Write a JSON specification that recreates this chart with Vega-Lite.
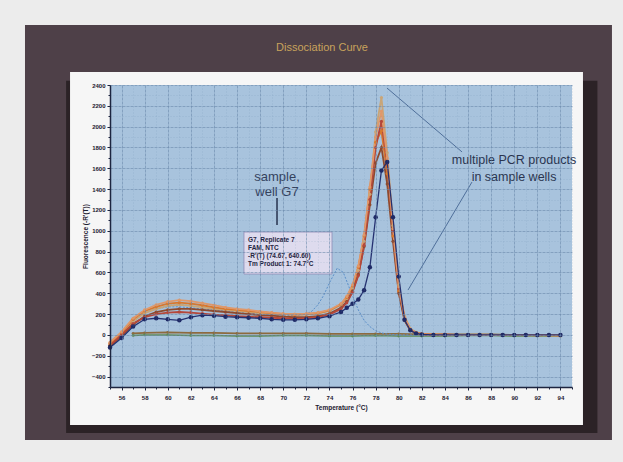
{
  "$schema": "https://vega.github.io/schema/vega-lite/v6.json",
  "width": 462,
  "height": 302,
  "autosize": {"type": "none"},
  "padding": {"left": 110, "top": 85, "right": 51, "bottom": 75},
  "background": "#ececec",
  "config": {
    "font": "Liberation Sans",
    "view": {"stroke": null},
    "axis": {
      "labelFontSize": 6,
      "labelFontWeight": "bold",
      "labelColor": "#1d2030",
      "labelOverlap": false,
      "labelFlush": false,
      "tickColor": "#1d2540",
      "domainColor": "#1d2540",
      "domainWidth": 1.5,
      "gridColor": "#6a88ab",
      "titleFontSize": 6.5,
      "titleFontWeight": "bold",
      "titleColor": "#1d2030"
    }
  },
  "datasets": {
    "curves": [
      {"r":"A7","t":55,"v":-90},{"r":"A7","t":56,"v":10},{"r":"A7","t":57,"v":130},{"r":"A7","t":58,"v":210},{"r":"A7","t":59,"v":250},{"r":"A7","t":60,"v":280},{"r":"A7","t":61,"v":290},{"r":"A7","t":62,"v":280},{"r":"A7","t":63,"v":265},{"r":"A7","t":64,"v":250},{"r":"A7","t":65,"v":240},{"r":"A7","t":66,"v":230},{"r":"A7","t":67,"v":220},{"r":"A7","t":68,"v":210},{"r":"A7","t":69,"v":205},{"r":"A7","t":70,"v":200},{"r":"A7","t":71,"v":195},{"r":"A7","t":72,"v":195},{"r":"A7","t":73,"v":205},{"r":"A7","t":74,"v":230},
      {"r":"A7","t":75,"v":290},{"r":"A7","t":75.5,"v":350},{"r":"A7","t":76,"v":450},{"r":"A7","t":76.5,"v":620},{"r":"A7","t":77,"v":900},{"r":"A7","t":77.5,"v":1350},{"r":"A7","t":78,"v":1950},{"r":"A7","t":78.5,"v":2280},{"r":"A7","t":79,"v":1750},{"r":"A7","t":79.5,"v":1050},{"r":"A7","t":80,"v":480},{"r":"A7","t":80.5,"v":180},{"r":"A7","t":81,"v":60},{"r":"A7","t":81.5,"v":25},{"r":"A7","t":82,"v":10},
      {"r":"A7","t":83,"v":5},{"r":"A7","t":84,"v":5},{"r":"A7","t":85,"v":0},{"r":"A7","t":86,"v":0},{"r":"A7","t":87,"v":5},{"r":"A7","t":88,"v":0},{"r":"A7","t":89,"v":0},{"r":"A7","t":90,"v":0},{"r":"A7","t":91,"v":-5},{"r":"A7","t":92,"v":-5},{"r":"A7","t":93,"v":-5},{"r":"A7","t":94,"v":-10},

      {"r":"B7","t":55,"v":-80},{"r":"B7","t":56,"v":20},{"r":"B7","t":57,"v":150},{"r":"B7","t":58,"v":230},{"r":"B7","t":59,"v":270},{"r":"B7","t":60,"v":300},{"r":"B7","t":61,"v":310},{"r":"B7","t":62,"v":300},{"r":"B7","t":63,"v":285},{"r":"B7","t":64,"v":265},{"r":"B7","t":65,"v":250},{"r":"B7","t":66,"v":240},{"r":"B7","t":67,"v":230},{"r":"B7","t":68,"v":220},{"r":"B7","t":69,"v":210},{"r":"B7","t":70,"v":200},{"r":"B7","t":71,"v":195},{"r":"B7","t":72,"v":200},{"r":"B7","t":73,"v":210},{"r":"B7","t":74,"v":235},
      {"r":"B7","t":75,"v":295},{"r":"B7","t":75.5,"v":360},{"r":"B7","t":76,"v":470},{"r":"B7","t":76.5,"v":650},{"r":"B7","t":77,"v":950},{"r":"B7","t":77.5,"v":1400},{"r":"B7","t":78,"v":1850},{"r":"B7","t":78.5,"v":1960},{"r":"B7","t":79,"v":1550},{"r":"B7","t":79.5,"v":950},{"r":"B7","t":80,"v":420},{"r":"B7","t":80.5,"v":150},{"r":"B7","t":81,"v":50},{"r":"B7","t":81.5,"v":20},{"r":"B7","t":82,"v":10},
      {"r":"B7","t":83,"v":5},{"r":"B7","t":84,"v":0},{"r":"B7","t":85,"v":0},{"r":"B7","t":86,"v":0},{"r":"B7","t":87,"v":0},{"r":"B7","t":88,"v":0},{"r":"B7","t":89,"v":0},{"r":"B7","t":90,"v":0},{"r":"B7","t":91,"v":0},{"r":"B7","t":92,"v":0},{"r":"B7","t":93,"v":-5},{"r":"B7","t":94,"v":-5},

      {"r":"C7","t":55,"v":-110},{"r":"C7","t":56,"v":-10},{"r":"C7","t":57,"v":100},{"r":"C7","t":58,"v":180},{"r":"C7","t":59,"v":220},{"r":"C7","t":60,"v":240},{"r":"C7","t":61,"v":250},{"r":"C7","t":62,"v":250},{"r":"C7","t":63,"v":240},{"r":"C7","t":64,"v":230},{"r":"C7","t":65,"v":220},{"r":"C7","t":66,"v":210},{"r":"C7","t":67,"v":200},{"r":"C7","t":68,"v":190},{"r":"C7","t":69,"v":185},{"r":"C7","t":70,"v":175},{"r":"C7","t":71,"v":170},{"r":"C7","t":72,"v":170},{"r":"C7","t":73,"v":180},{"r":"C7","t":74,"v":205},
      {"r":"C7","t":75,"v":260},{"r":"C7","t":75.5,"v":320},{"r":"C7","t":76,"v":420},{"r":"C7","t":76.5,"v":580},{"r":"C7","t":77,"v":850},{"r":"C7","t":77.5,"v":1250},{"r":"C7","t":78,"v":1650},{"r":"C7","t":78.5,"v":1800},{"r":"C7","t":79,"v":1450},{"r":"C7","t":79.5,"v":900},{"r":"C7","t":80,"v":400},{"r":"C7","t":80.5,"v":140},{"r":"C7","t":81,"v":45},{"r":"C7","t":81.5,"v":15},{"r":"C7","t":82,"v":5},
      {"r":"C7","t":83,"v":0},{"r":"C7","t":84,"v":0},{"r":"C7","t":85,"v":0},{"r":"C7","t":86,"v":0},{"r":"C7","t":87,"v":0},{"r":"C7","t":88,"v":0},{"r":"C7","t":89,"v":0},{"r":"C7","t":90,"v":0},{"r":"C7","t":91,"v":0},{"r":"C7","t":92,"v":0},{"r":"C7","t":93,"v":0},{"r":"C7","t":94,"v":0},

      {"r":"D7","t":55,"v":-100},{"r":"D7","t":56,"v":0},{"r":"D7","t":57,"v":110},{"r":"D7","t":58,"v":170},{"r":"D7","t":59,"v":200},{"r":"D7","t":60,"v":215},{"r":"D7","t":61,"v":220},{"r":"D7","t":62,"v":215},{"r":"D7","t":63,"v":205},{"r":"D7","t":64,"v":195},{"r":"D7","t":65,"v":190},{"r":"D7","t":66,"v":180},{"r":"D7","t":67,"v":175},{"r":"D7","t":68,"v":170},{"r":"D7","t":69,"v":165},{"r":"D7","t":70,"v":160},{"r":"D7","t":71,"v":155},{"r":"D7","t":72,"v":160},{"r":"D7","t":73,"v":170},{"r":"D7","t":74,"v":195},
      {"r":"D7","t":75,"v":250},{"r":"D7","t":75.5,"v":310},{"r":"D7","t":76,"v":410},{"r":"D7","t":76.5,"v":570},{"r":"D7","t":77,"v":860},{"r":"D7","t":77.5,"v":1300},{"r":"D7","t":78,"v":1800},{"r":"D7","t":78.5,"v":2050},{"r":"D7","t":79,"v":1650},{"r":"D7","t":79.5,"v":1000},{"r":"D7","t":80,"v":450},{"r":"D7","t":80.5,"v":160},{"r":"D7","t":81,"v":50},{"r":"D7","t":81.5,"v":20},{"r":"D7","t":82,"v":5},
      {"r":"D7","t":83,"v":0},{"r":"D7","t":84,"v":5},{"r":"D7","t":85,"v":0},{"r":"D7","t":86,"v":0},{"r":"D7","t":87,"v":0},{"r":"D7","t":88,"v":0},{"r":"D7","t":89,"v":0},{"r":"D7","t":90,"v":0},{"r":"D7","t":91,"v":0},{"r":"D7","t":92,"v":-5},{"r":"D7","t":93,"v":0},{"r":"D7","t":94,"v":-5},

      {"r":"E7","t":55,"v":-70},{"r":"E7","t":56,"v":30},{"r":"E7","t":57,"v":160},{"r":"E7","t":58,"v":240},{"r":"E7","t":59,"v":290},{"r":"E7","t":60,"v":320},{"r":"E7","t":61,"v":335},{"r":"E7","t":62,"v":325},{"r":"E7","t":63,"v":305},{"r":"E7","t":64,"v":285},{"r":"E7","t":65,"v":265},{"r":"E7","t":66,"v":250},{"r":"E7","t":67,"v":240},{"r":"E7","t":68,"v":225},{"r":"E7","t":69,"v":215},{"r":"E7","t":70,"v":205},{"r":"E7","t":71,"v":200},{"r":"E7","t":72,"v":205},{"r":"E7","t":73,"v":215},{"r":"E7","t":74,"v":240},
      {"r":"E7","t":75,"v":300},{"r":"E7","t":75.5,"v":370},{"r":"E7","t":76,"v":480},{"r":"E7","t":76.5,"v":660},{"r":"E7","t":77,"v":960},{"r":"E7","t":77.5,"v":1420},{"r":"E7","t":78,"v":1900},{"r":"E7","t":78.5,"v":2150},{"r":"E7","t":79,"v":1700},{"r":"E7","t":79.5,"v":1020},{"r":"E7","t":80,"v":460},{"r":"E7","t":80.5,"v":170},{"r":"E7","t":81,"v":55},{"r":"E7","t":81.5,"v":20},{"r":"E7","t":82,"v":8},
      {"r":"E7","t":83,"v":5},{"r":"E7","t":84,"v":0},{"r":"E7","t":85,"v":0},{"r":"E7","t":86,"v":0},{"r":"E7","t":87,"v":0},{"r":"E7","t":88,"v":0},{"r":"E7","t":89,"v":0},{"r":"E7","t":90,"v":0},{"r":"E7","t":91,"v":0},{"r":"E7","t":92,"v":0},{"r":"E7","t":93,"v":0},{"r":"E7","t":94,"v":0},

      {"r":"F7","t":55,"v":-120},{"r":"F7","t":56,"v":-30},{"r":"F7","t":57,"v":80},{"r":"F7","t":58,"v":150},{"r":"F7","t":59,"v":160},{"r":"F7","t":60,"v":150},{"r":"F7","t":61,"v":140},{"r":"F7","t":62,"v":170},{"r":"F7","t":63,"v":190},{"r":"F7","t":64,"v":185},{"r":"F7","t":65,"v":175},{"r":"F7","t":66,"v":170},{"r":"F7","t":67,"v":165},{"r":"F7","t":68,"v":160},{"r":"F7","t":69,"v":150},{"r":"F7","t":70,"v":145},{"r":"F7","t":71,"v":145},{"r":"F7","t":72,"v":150},{"r":"F7","t":73,"v":160},{"r":"F7","t":74,"v":180},
      {"r":"F7","t":75,"v":220},{"r":"F7","t":75.5,"v":260},{"r":"F7","t":76,"v":300},{"r":"F7","t":76.5,"v":340},{"r":"F7","t":77,"v":430},{"r":"F7","t":77.5,"v":650},{"r":"F7","t":78,"v":1130},{"r":"F7","t":78.5,"v":1580},{"r":"F7","t":79,"v":1660},{"r":"F7","t":79.5,"v":1130},{"r":"F7","t":80,"v":560},{"r":"F7","t":80.5,"v":145},{"r":"F7","t":81,"v":45},{"r":"F7","t":81.5,"v":15},{"r":"F7","t":82,"v":5},
      {"r":"F7","t":83,"v":0},{"r":"F7","t":84,"v":0},{"r":"F7","t":85,"v":0},{"r":"F7","t":86,"v":0},{"r":"F7","t":87,"v":0},{"r":"F7","t":88,"v":0},{"r":"F7","t":89,"v":0},{"r":"F7","t":90,"v":0},{"r":"F7","t":91,"v":0},{"r":"F7","t":92,"v":0},{"r":"F7","t":93,"v":0},{"r":"F7","t":94,"v":0},

      {"r":"G7","t":55,"v":-60},{"r":"G7","t":56,"v":20},{"r":"G7","t":57,"v":140},{"r":"G7","t":58,"v":210},{"r":"G7","t":59,"v":250},{"r":"G7","t":60,"v":270},{"r":"G7","t":61,"v":270},{"r":"G7","t":62,"v":260},{"r":"G7","t":63,"v":250},{"r":"G7","t":64,"v":240},{"r":"G7","t":65,"v":230},{"r":"G7","t":66,"v":220},{"r":"G7","t":67,"v":210},{"r":"G7","t":68,"v":200},{"r":"G7","t":69,"v":195},{"r":"G7","t":70,"v":190},{"r":"G7","t":71,"v":185},
      {"r":"G7","t":72,"v":200},{"r":"G7","t":72.5,"v":230},{"r":"G7","t":73,"v":290},{"r":"G7","t":73.5,"v":380},{"r":"G7","t":74,"v":500},{"r":"G7","t":74.67,"v":640.6},{"r":"G7","t":75.2,"v":600},{"r":"G7","t":75.8,"v":430},{"r":"G7","t":76.5,"v":240},{"r":"G7","t":77,"v":140},{"r":"G7","t":77.5,"v":80},{"r":"G7","t":78,"v":40},{"r":"G7","t":78.5,"v":20},{"r":"G7","t":79,"v":8},
      {"r":"G7","t":80,"v":0},{"r":"G7","t":82,"v":0},{"r":"G7","t":84,"v":0},{"r":"G7","t":86,"v":0},{"r":"G7","t":88,"v":0},{"r":"G7","t":90,"v":0},{"r":"G7","t":92,"v":0},{"r":"G7","t":94,"v":0},

      {"r":"H7","t":57,"v":15},{"r":"H7","t":58,"v":20},{"r":"H7","t":60,"v":25},{"r":"H7","t":62,"v":20},{"r":"H7","t":64,"v":20},{"r":"H7","t":66,"v":15},{"r":"H7","t":68,"v":15},{"r":"H7","t":70,"v":15},{"r":"H7","t":72,"v":15},{"r":"H7","t":74,"v":10},{"r":"H7","t":76,"v":10},{"r":"H7","t":78,"v":10},{"r":"H7","t":80,"v":10},{"r":"H7","t":82,"v":5},{"r":"H7","t":84,"v":5},{"r":"H7","t":86,"v":5},{"r":"H7","t":88,"v":5},{"r":"H7","t":90,"v":0},{"r":"H7","t":92,"v":0},{"r":"H7","t":94,"v":0},

      {"r":"H8","t":57,"v":-5},{"r":"H8","t":58,"v":0},{"r":"H8","t":60,"v":0},{"r":"H8","t":62,"v":-5},{"r":"H8","t":64,"v":-5},{"r":"H8","t":66,"v":-10},{"r":"H8","t":68,"v":-10},{"r":"H8","t":70,"v":-5},{"r":"H8","t":72,"v":-5},{"r":"H8","t":74,"v":-10},{"r":"H8","t":76,"v":-10},{"r":"H8","t":78,"v":-5},{"r":"H8","t":80,"v":-10},{"r":"H8","t":82,"v":-10},{"r":"H8","t":84,"v":-10},{"r":"H8","t":86,"v":-5},{"r":"H8","t":88,"v":-5},{"r":"H8","t":90,"v":-10},{"r":"H8","t":92,"v":-10},{"r":"H8","t":94,"v":-10}
    ]
  },
  "layer": [
    {
      "description": "slide frame",
      "data": {"values": [{}]},
      "mark": {"type": "rect", "color": "#4e4048"},
      "encoding": {
        "x": {"datum": 47.64, "type": "quantitative", "title": "Temperature (°C)"},
        "x2": {"datum": 98.46},
        "y": {"datum": 2976, "type": "quantitative", "title": "Fluorescence (-R'(T))"},
        "y2": {"datum": -1009}
      }
    },
    {
      "description": "drop shadow under the chart panel",
      "data": {"values": [{}]},
      "mark": {"type": "rect", "color": "#2b2226"},
      "encoding": {
        "x": {"datum": 51.2, "type": "quantitative", "title": "Temperature (°C)"},
        "x2": {"datum": 97.2},
        "y": {"datum": 2440, "type": "quantitative", "title": "Fluorescence (-R'(T))"},
        "y2": {"datum": -942}
      }
    },
    {
      "description": "white chart panel",
      "data": {"values": [{}]},
      "mark": {"type": "rect", "color": "#f6f6f6"},
      "encoding": {
        "x": {"datum": 51.54, "type": "quantitative", "title": "Temperature (°C)"},
        "x2": {"datum": 95.95},
        "y": {"datum": 2525, "type": "quantitative", "title": "Fluorescence (-R'(T))"},
        "y2": {"datum": -865}
      }
    },
    {
      "description": "plot background",
      "data": {"values": [{}]},
      "mark": {"type": "rect", "color": "#a8c3dd"},
      "encoding": {
        "x": {"datum": 55, "type": "quantitative", "title": "Temperature (°C)"},
        "x2": {"datum": 95},
        "y": {"datum": 2400, "type": "quantitative", "title": "Fluorescence (-R'(T))"},
        "y2": {"datum": -500}
      }
    },
    {
      "description": "no-template control wells",
      "data": {"name": "curves"},
      "transform": [{"filter": "datum.r === 'H7' || datum.r === 'H8'"}],
      "mark": {"type": "line", "strokeWidth": 1.6, "point": {"filled": true, "size": 8}},
      "encoding": {
        "x": {
          "field": "t",
          "type": "quantitative",
          "title": "Temperature (°C)",
          "scale": {"domain": [55, 95], "nice": false, "zero": false},
          "axis": {
            "values": [55,56,57,58,59,60,61,62,63,64,65,66,67,68,69,70,71,72,73,74,75,76,77,78,79,80,81,82,83,84,85,86,87,88,89,90,91,92,93,94,95],
            "tickCount": 200,
            "labelExpr": "datum.value % 2 === 0 ? datum.label : ''",
            "format": "d",
            "labelPadding": 4,
            "titlePadding": 4,
            "tickSize": {"condition": {"test": "datum.value % 2 !== 0", "value": 2}, "value": 3},
            "grid": true,
            "gridOpacity": {"condition": {"test": "datum.value % 2 !== 0", "value": 0.22}, "value": 0.6},
            "gridDash": {"condition": {"test": "datum.value % 2 !== 0", "value": [1, 2]}, "value": [3, 1]},
            "zindex": 1
          }
        },
        "y": {
          "field": "v",
          "type": "quantitative",
          "title": "Fluorescence (-R'(T))",
          "scale": {"domain": [-500, 2400], "nice": false, "zero": false},
          "axis": {
            "values": [-500,-400,-300,-200,-100,0,100,200,300,400,500,600,700,800,900,1000,1100,1200,1300,1400,1500,1600,1700,1800,1900,2000,2100,2200,2300,2400],
            "tickCount": 200,
            "labelExpr": "datum.value % 200 === 0 ? datum.label : ''",
            "format": "d",
            "labelPadding": 2,
            "titlePadding": 3,
            "tickSize": {"condition": {"test": "datum.value % 200 !== 0", "value": 2}, "value": 3},
            "grid": true,
            "gridOpacity": {"condition": {"test": "datum.value % 200 !== 0", "value": 0.22}, "value": 0.6},
            "gridDash": {"condition": {"test": "datum.value % 200 !== 0", "value": [1, 2]}, "value": [3, 1]},
            "zindex": 1
          }
        },
        "color": {
          "field": "r",
          "type": "nominal",
          "legend": null,
          "scale": {
            "domain": ["A7", "B7", "C7", "D7", "E7", "F7", "G7", "H7", "H8"],
            "range": ["#c9a577", "#d9782d", "#8e4a2e", "#b5473a", "#e0986a", "#253170", "#5b8fc9", "#8d6a3e", "#5e8a52"]
          }
        }
      }
    },
    {
      "description": "well G7",
      "data": {"name": "curves"},
      "transform": [{"filter": "datum.r === 'G7'"}],
      "mark": {"type": "line", "strokeWidth": 1, "strokeDash": [2, 1.5], "color": "#5b8fc9"},
      "encoding": {
        "x": {"field": "t", "type": "quantitative", "title": "Temperature (°C)"},
        "y": {"field": "v", "type": "quantitative", "title": "Fluorescence (-R'(T))"}
      }
    },
    {
      "description": "sample wells",
      "data": {"name": "curves"},
      "transform": [{"filter": "indexof(['A7','B7','C7','D7','E7'], datum.r) >= 0"}],
      "mark": {"type": "line", "strokeWidth": 1.8, "point": {"filled": true, "size": 10}},
      "encoding": {
        "x": {"field": "t", "type": "quantitative", "title": "Temperature (°C)"},
        "y": {"field": "v", "type": "quantitative", "title": "Fluorescence (-R'(T))"},
        "color": {"field": "r", "type": "nominal", "legend": null}
      }
    },
    {
      "description": "sample well F7 with its markers",
      "data": {"name": "curves"},
      "transform": [{"filter": "datum.r === 'F7'"}],
      "mark": {"type": "line", "strokeWidth": 1.3, "color": "#253170", "point": {"filled": true, "size": 20, "color": "#1f2a66"}},
      "encoding": {
        "x": {"field": "t", "type": "quantitative", "title": "Temperature (°C)"},
        "y": {"field": "v", "type": "quantitative", "title": "Fluorescence (-R'(T))"}
      }
    },
    {
      "description": "pointer lines from the PCR products note",
      "data": {"values": [{"x1": 78.98, "x2": 85.48, "y1": 2371, "y2": 1757}, {"x1": 86.34, "x2": 80.8, "y1": 1468, "y2": 431}]},
      "mark": {"type": "rule", "color": "#4f6f9a", "strokeWidth": 1},
      "encoding": {
        "x": {"field": "x1", "type": "quantitative", "title": "Temperature (°C)"},
        "x2": {"field": "x2"},
        "y": {"field": "y1", "type": "quantitative", "title": "Fluorescence (-R'(T))"},
        "y2": {"field": "y2"}
      }
    },
    {
      "description": "pointer under the well G7 note",
      "data": {"values": [{}]},
      "mark": {"type": "rule", "color": "#27324e", "strokeWidth": 1.5},
      "encoding": {
        "x": {"datum": 69.46, "type": "quantitative", "title": "Temperature (°C)"},
        "y": {"datum": 1315, "type": "quantitative", "title": "Fluorescence (-R'(T))"},
        "y2": {"datum": 1056}
      }
    },
    {
      "description": "info box for G7",
      "data": {"values": [{}]},
      "mark": {"type": "rect", "color": "#dedbee", "stroke": "#8f8cb5", "strokeWidth": 0.8},
      "encoding": {
        "x": {"datum": 66.6, "type": "quantitative", "title": "Temperature (°C)"},
        "x2": {"datum": 74.22},
        "y": {"datum": 988, "type": "quantitative", "title": "Fluorescence (-R'(T))"},
        "y2": {"datum": 585}
      }
    },
    {
      "data": {"values": [{}]},
      "mark": {"type": "text", "align": "left", "baseline": "top", "fontSize": 6.5, "lineHeight": 8, "color": "#1f2440", "fontWeight": "bold"},
      "encoding": {
        "x": {"datum": 66.95, "type": "quantitative", "title": "Temperature (°C)"},
        "y": {"datum": 940, "type": "quantitative", "title": "Fluorescence (-R'(T))"},
        "text": {"value": ["G7, Replicate 7", "FAM, NTC", "-R'(T) (74.67, 640.60)", "Tm Product 1: 74.7°C"]}
      }
    },
    {
      "data": {"values": [{}]},
      "mark": {"type": "text", "align": "center", "baseline": "middle", "fontSize": 13, "lineHeight": 15, "color": "#34425e"},
      "encoding": {
        "x": {"datum": 69.46, "type": "quantitative", "title": "Temperature (°C)"},
        "y": {"datum": 1517, "type": "quantitative", "title": "Fluorescence (-R'(T))"},
        "text": {"value": ["sample,", "well G7"]}
      }
    },
    {
      "data": {"values": [{}]},
      "mark": {"type": "text", "align": "center", "baseline": "middle", "fontSize": 12.5, "lineHeight": 17, "color": "#2a3550"},
      "encoding": {
        "x": {"datum": 89.98, "type": "quantitative", "title": "Temperature (°C)"},
        "y": {"datum": 1680, "type": "quantitative", "title": "Fluorescence (-R'(T))"},
        "text": {"value": ["multiple PCR products", "in sample wells"]}
      }
    },
    {
      "description": "chart heading",
      "data": {"values": [{}]},
      "mark": {"type": "text", "align": "center", "baseline": "middle", "fontSize": 11, "color": "#c8a35c"},
      "encoding": {
        "x": {"datum": 73.35, "type": "quantitative", "title": "Temperature (°C)"},
        "y": {"datum": 2755, "type": "quantitative", "title": "Fluorescence (-R'(T))"},
        "text": {"value": "Dissociation Curve"}
      }
    }
  ]
}
